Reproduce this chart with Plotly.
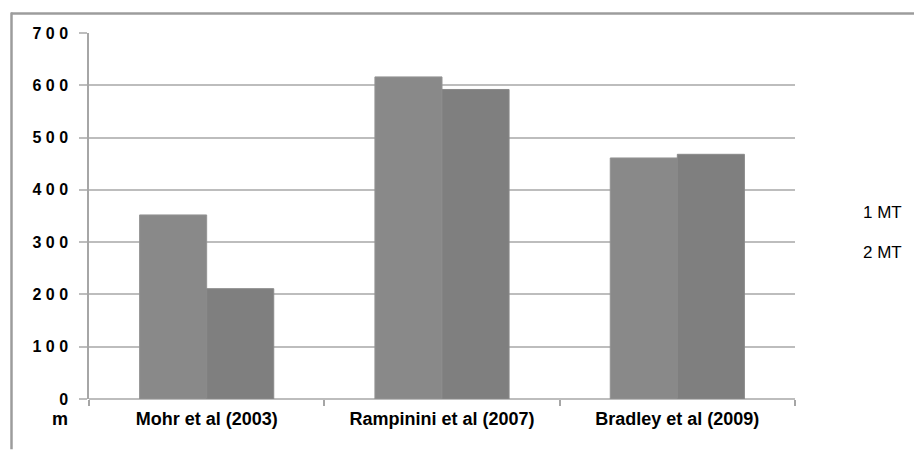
import plotly.graph_objects as go

categories = ["Mohr et al (2003)", "Rampinini et al (2007)", "Bradley et al (2009)"]
series_names = ["1 MT", "2 MT"]
mt1_values = [352, 616, 461]
mt2_values = [211, 592, 468]
y_tick_vals = [0, 100, 200, 300, 400, 500, 600, 700]
y_tick_text = ["0", "1 0 0", "2 0 0", "3 0 0", "4 0 0", "5 0 0", "6 0 0", "7 0 0"]
unit_label = "m"

OFF = 8  # page body margin
W, H = 923 - OFF, 450 - OFF
L, R, T, B = 89 - OFF, 128, 32.5 - OFF, 51.3
pw, ph = W - L - R, H - T - B

FONT = "Arial, 'Liberation Sans', sans-serif"

fig = go.Figure()
fig.add_trace(go.Bar(x=categories, y=mt1_values, name=series_names[0],
                     marker=dict(color="#898989", line=dict(color="#939393", width=1)),
                     showlegend=False))
fig.add_trace(go.Bar(x=categories, y=mt2_values, name=series_names[1],
                     marker=dict(color="#7f7f7f", line=dict(color="#8a8a8a", width=1)),
                     showlegend=False))

def px_x(x):
    return (x - OFF - L) / pw

def px_y(y):
    return (H - B - (y - OFF)) / ph

annotations = [
    dict(text=f"<b>{unit_label}</b>", x=px_x(60), y=px_y(419), xref="paper", yref="paper",
         xanchor="center", yanchor="middle", showarrow=False,
         font=dict(family=FONT, size=18, color="#000")),
    dict(text=series_names[0], x=px_x(861), y=px_y(212), xref="paper", yref="paper",
         xanchor="left", yanchor="middle", showarrow=False,
         font=dict(family=FONT, size=17, color="#000")),
    dict(text=series_names[1], x=px_x(861), y=px_y(252), xref="paper", yref="paper",
         xanchor="left", yanchor="middle", showarrow=False,
         font=dict(family=FONT, size=17, color="#000")),
]

frame = dict(color="#9c9c9c", width=2.5)
fig.update_layout(
    width=W, height=H,
    margin=dict(l=L, r=R, t=T, b=B, autoexpand=False),
    paper_bgcolor="white", plot_bgcolor="rgba(0,0,0,0)",
    barmode="group", bargap=0.43, bargroupgap=0,
    annotations=annotations,
    shapes=[
        dict(type="line", xref="paper", yref="paper",
             x0=px_x(11), x1=px_x(914), y0=px_y(13), y1=px_y(13),
             line=frame, layer="above"),
        dict(type="line", xref="paper", yref="paper",
             x0=px_x(11.5), x1=px_x(11.5), y0=px_y(12), y1=px_y(449),
             line=frame, layer="above"),
    ],
    xaxis=dict(
        type="category", tickson="boundaries", ticks="outside", ticklen=6,
        tickcolor="#a6a6a6", tickwidth=1.5,
        showline=False, showgrid=False, zeroline=False,
        tickfont=dict(family=FONT, size=18, color="#000", weight="bold"),
        ticklabelstandoff=7,
    ),
    yaxis=dict(
        range=[0, 700], tickvals=y_tick_vals, ticktext=y_tick_text,
        ticks="outside", ticklen=8, tickcolor="#bdbdbd", tickwidth=1.5,
        showline=True, linecolor="#a6a6a6", linewidth=1.5,
        showgrid=True, gridcolor="#bdbdbd", gridwidth=1.5,
        zeroline=True, zerolinecolor="#bdbdbd", zerolinewidth=1.5,
        tickfont=dict(family=FONT, size=16, color="#000", weight="bold"),
        ticklabelstandoff=8,
    ),
)

fig.write_html("out.html")
